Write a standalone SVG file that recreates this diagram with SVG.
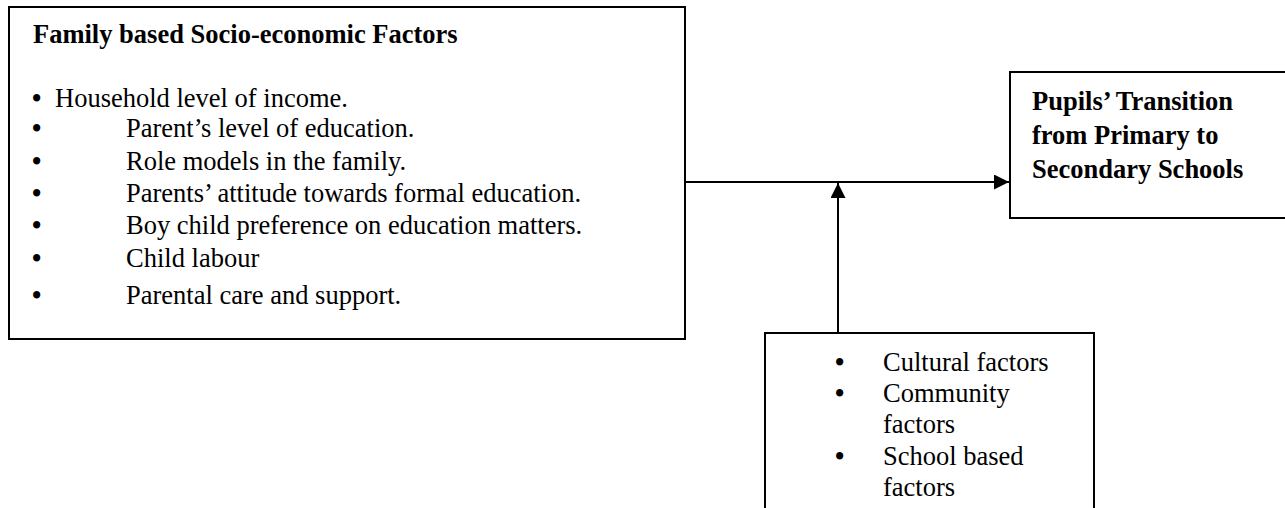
<svg xmlns="http://www.w3.org/2000/svg" width="1285" height="508" viewBox="0 0 1285 508">
<style>
.box{fill:#fff;stroke:#000;stroke-width:2}
.t{font-family:"Liberation Serif","Times New Roman",serif;font-size:26.5px;fill:#000}
.bl{font-family:"Liberation Serif","Times New Roman",serif;font-size:26.5px;font-weight:bold;fill:#000}
.b{font-weight:bold}
.conn{stroke:#000;stroke-width:2;fill:none}
</style>
<defs>
<marker id="ah" viewBox="0 0 10 10" refX="10" refY="5" markerWidth="15" markerHeight="15" markerUnits="userSpaceOnUse" orient="auto">
<path d="M0,0 L10,5 L0,10 Z" fill="#000"/>
</marker>
</defs>
<g id="family">
<rect class="box" x="9" y="7" width="676" height="332"/>
<text class="t b" x="33" y="43">Family based Socio-economic Factors</text>
<text class="bl" x="32" y="107">•</text><text class="t" x="55" y="107">Household level of income.</text>
<text class="bl" x="32" y="137">•</text><text class="t" x="126" y="137">Parent’s level of education.</text>
<text class="bl" x="32" y="170">•</text><text class="t" x="126" y="170">Role models in the family.</text>
<text class="bl" x="32" y="202">•</text><text class="t" x="126" y="202">Parents’ attitude towards formal education.</text>
<text class="bl" x="32" y="234">•</text><text class="t" x="126" y="234">Boy child preference on education matters.</text>
<text class="bl" x="32" y="267">•</text><text class="t" x="126" y="267">Child labour</text>
<text class="bl" x="32" y="304">•</text><text class="t" x="126" y="304">Parental care and support.</text>
</g>
<g id="transition">
<rect class="box" x="1010" y="72" width="285" height="146"/>
<text class="t b" x="1032" y="110">Pupils’ Transition</text>
<text class="t b" x="1032" y="144">from Primary to</text>
<text class="t b" x="1032" y="178">Secondary Schools</text>
</g>
<g id="other">
<rect class="box" x="765" y="333" width="329" height="190"/>
<text class="bl" x="835" y="371">•</text><text class="t" x="883" y="371">Cultural factors</text>
<text class="bl" x="835" y="402">•</text><text class="t" x="883" y="402">Community</text>
<text class="t" x="883" y="433">factors</text>
<text class="bl" x="835" y="465">•</text><text class="t" x="883" y="465">School based</text>
<text class="t" x="883" y="496">factors</text>
</g>
<g id="connectors">
<line class="conn" x1="685" y1="182" x2="1009" y2="182" marker-end="url(#ah)"/>
<line class="conn" x1="838" y1="332" x2="838" y2="183" marker-end="url(#ah)"/>
</g>
</svg>
